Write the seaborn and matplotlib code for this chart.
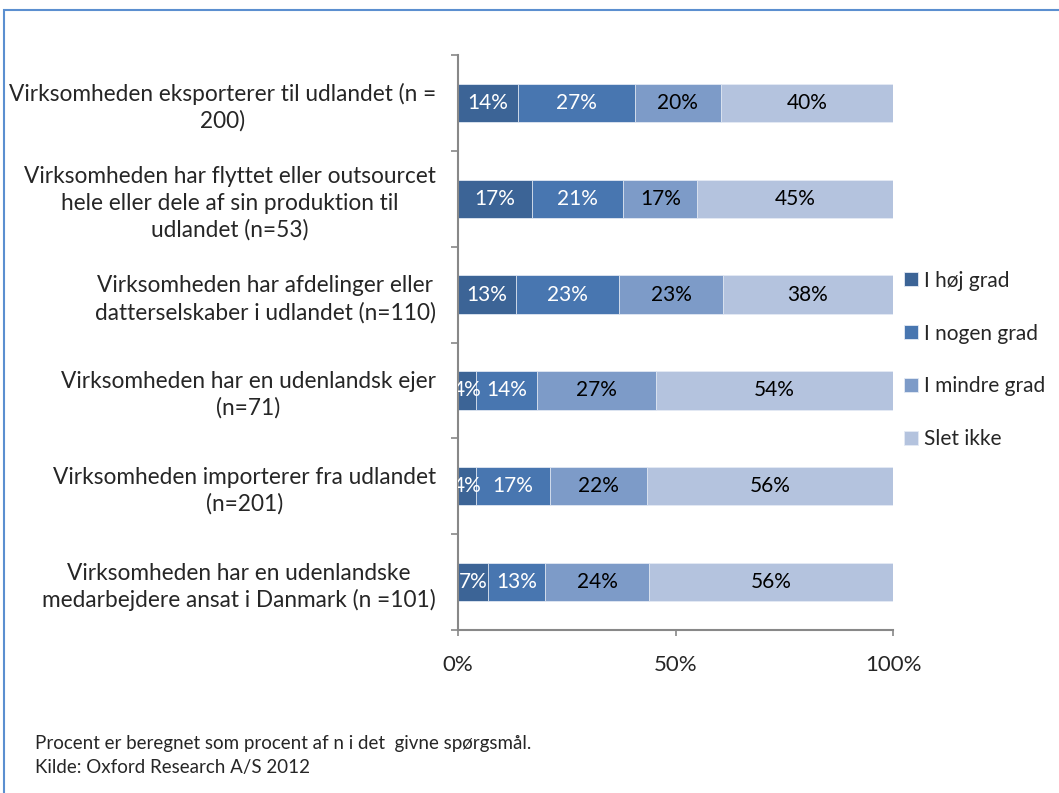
import numpy as np
import pandas as pd
import matplotlib
matplotlib.use("Agg")
import matplotlib.pyplot as plt
import seaborn as sns
from matplotlib.patches import Rectangle

# Data
kategorier = [
    "Virksomheden eksporterer til udlandet (n =\n200)",
    "Virksomheden har flyttet eller outsourcet\nhele eller dele af sin produktion til\nudlandet (n=53)",
    "Virksomheden har afdelinger eller\ndatterselskaber i udlandet (n=110)",
    "Virksomheden har en udenlandsk ejer\n(n=71)",
    "Virksomheden importerer fra udlandet\n(n=201)",
    "Virksomheden har en udenlandske\nmedarbejdere ansat i Danmark (n =101)",
]
serier = ["I høj grad", "I nogen grad", "I mindre grad", "Slet ikke"]
hoj_grad = [14, 17, 13, 4, 4, 7]
nogen_grad = [27, 21, 23, 14, 17, 13]
mindre_grad = [20, 17, 23, 27, 22, 24]
slet_ikke = [40, 45, 38, 54, 56, 56]

farver = ["#3c6496", "#4876b0", "#7d9bc8", "#b4c3de"]
tekstfarver = ["white", "white", "black", "black"]

sns.set_theme(style="white")
plt.rcParams["font.family"] = ["Lato", "DejaVu Sans"]

vaerdier = np.array([hoj_grad, nogen_grad, mindre_grad, slet_ikke], dtype=float)
# 100% stablet, som i Excel
andel = vaerdier / vaerdier.sum(axis=0) * 100
kum = np.cumsum(andel, axis=0)

fig = plt.figure(figsize=(10.59, 7.93), dpi=100)
ax = fig.add_axes([458 / 1059, 1 - 630 / 793, 435 / 1059, 575 / 793])

# tegn de kumulerede bjælker bagfra, så de overlapper til en stablet bjælke
for i in reversed(range(len(serier))):
    df = pd.DataFrame({"kategori": kategorier, "vaerdi": kum[i]})
    sns.barplot(data=df, x="vaerdi", y="kategori", orient="h", color=farver[i],
                saturation=1, width=0.4, label=serier[i], ax=ax,
                edgecolor="#e4eaf4", linewidth=0.6)

for i in range(len(serier)):
    for j in range(len(kategorier)):
        midt = kum[i, j] - andel[i, j] / 2
        ax.text(midt, j, f"{int(vaerdier[i, j])}%", ha="center", va="center",
                color=tekstfarver[i], fontsize=15, clip_on=True)

ax.set_xlim(0, 100)
ax.set_ylim(5.5, -0.5)
ax.set_xlabel("")
ax.set_ylabel("")
ax.set_xticks([0, 50, 100])
ax.set_xticklabels(["0%", "50%", "100%"], fontsize=16)
ax.set_yticks(range(len(kategorier)))
ax.set_yticklabels(kategorier, fontsize=16.3, multialignment="center", linespacing=1.3)
ax.set_yticks(np.arange(-0.5, 6, 1), minor=True)
ax.tick_params(axis="y", which="major", length=0, pad=16)
ax.tick_params(axis="y", which="minor", left=True, length=5, width=1.2, color="#888888", direction="out")
ax.tick_params(axis="x", bottom=True, length=4, width=1.2, color="#888888", direction="out", pad=14)

for side in ["top", "right"]:
    ax.spines[side].set_visible(False)
for side in ["left", "bottom"]:
    ax.spines[side].set_color("#888888")
    ax.spines[side].set_linewidth(1.5)

handles, labels = ax.get_legend_handles_labels()
if ax.get_legend() is not None:
    ax.get_legend().remove()
handles, labels = handles[::-1], labels[::-1]
fig.legend(handles, labels, loc="center left", bbox_to_anchor=(896 / 1059, 1 - 360 / 793),
           frameon=False, fontsize=15, handlelength=0.65, handleheight=0.65,
           handletextpad=0.3, labelspacing=1.58, borderaxespad=0)

fig.text(35 / 1059, 1 - 743 / 793, "Procent er beregnet som procent af n i det  givne spørgsmål.",
         fontsize=13.5, va="center", ha="left")
fig.text(35 / 1059, 1 - 768 / 793, "Kilde: Oxford Research A/S 2012",
         fontsize=13.5, va="center", ha="left")

# blå ramme rundt om diagrammet (skåret af til højre og forneden)
fig.add_artist(Rectangle((4 / 1059, -0.1), 1.2, 1.1 - 10 / 793, transform=fig.transFigure,
                         fill=False, edgecolor="#5b8fd0", linewidth=1.5))

fig.savefig("out.png", dpi=100)
